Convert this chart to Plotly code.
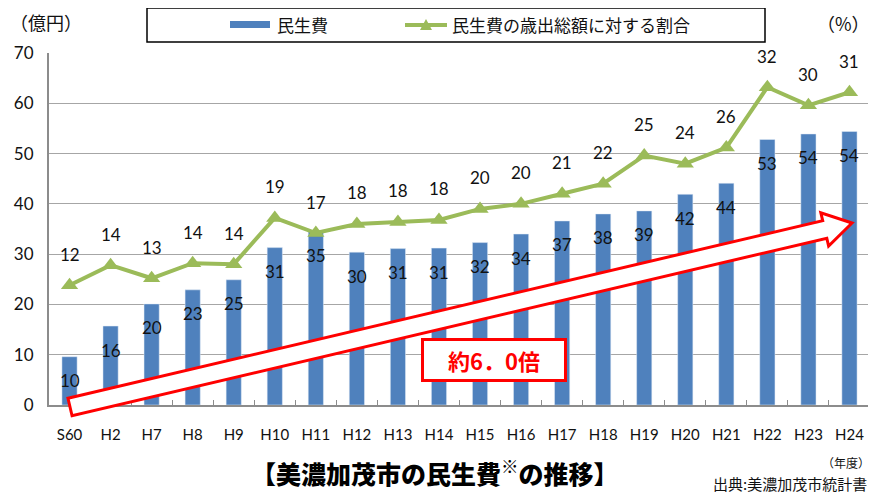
import numpy as np
import plotly.graph_objects as go

# 年度
years = ["S60", "H2", "H7", "H8", "H9", "H10", "H11", "H12", "H13", "H14",
         "H15", "H16", "H17", "H18", "H19", "H20", "H21", "H22", "H23", "H24"]
# 民生費 (億円)
welfare = [9.6, 15.7, 20.1, 22.9, 24.9, 31.3, 34.6, 30.4, 31.1, 31.2,
           32.3, 34.0, 36.6, 38.0, 38.6, 41.9, 44.1, 52.8, 53.9, 54.4]
# 民生費の歳出総額に対する割合 (%)
ratio = [11.9, 13.9, 12.6, 14.1, 14.0, 18.6, 17.1, 18.0, 18.2, 18.4,
         19.5, 20.0, 21.0, 22.0, 24.8, 24.0, 25.6, 31.6, 29.8, 31.1]

# the page body adds an 8px margin, so the figure is laid out 8px smaller
OFF = 8
W, H = 876 - OFF, 493 - OFF
PLOT_L, PLOT_R, PLOT_T, PLOT_B = 49, 870, 53, 405   # plot area in page pixels
ML, MR = PLOT_L - OFF, W - (PLOT_R - OFF)
MT, MB = PLOT_T - OFF, H - (PLOT_B - OFF)
PW, PH = PLOT_R - PLOT_L, PLOT_B - PLOT_T

NUM_FONT = "Lato, 'Noto Sans CJK JP', sans-serif"
JP_FONT = "'Noto Sans CJK JP', sans-serif"
BLUE = "#4F81BD"
GREEN = "#9BBB59"
TXT = "#111111"


def px(x, y):
    """page pixel position -> paper coords"""
    return (x - PLOT_L) / PW, (PLOT_B - y) / PH


def path_of(points):
    return "M " + " L ".join("{:.4f},{:.4f}".format(*px(*p)) for p in points) + " Z"


def label(x, y, text, size, color=TXT, xanchor="center", **kw):
    ax, ay = px(x, y)
    return dict(x=ax, y=ay, xref="paper", yref="paper", text=text, showarrow=False,
                xanchor=xanchor, yanchor="middle",
                font=dict(family=kw.pop("family", JP_FONT), size=size, color=color,
                          weight=kw.pop("weight", "normal")), **kw)


fig = go.Figure()
fig.add_trace(go.Bar(x=years, y=welfare, name="民生費", marker_color=BLUE,
                     width=0.37, yaxis="y"))
fig.add_trace(go.Scatter(x=years, y=ratio, name="民生費の歳出総額に対する割合",
                         mode="lines+markers", yaxis="y2",
                         line=dict(color=GREEN, width=4),
                         marker=dict(symbol="triangle-up", size=15, color=GREEN)))

annotations = []
for yr, v in zip(years, welfare):
    annotations.append(dict(x=yr, y=v, xref="x", yref="y", text=f"{round(v)}",
                            showarrow=False, yshift=-24,
                            font=dict(family=NUM_FONT, size=17, color=TXT)))
for yr, v in zip(years, ratio):
    annotations.append(dict(x=yr, y=v, xref="x", yref="y2", text=f"{round(v)}",
                            showarrow=False, yshift=31,
                            font=dict(family=NUM_FONT, size=17, color=TXT)))

# big red arrow
tail = np.array([70.0, 407.0])
tip = np.array([852.0, 223.0])
u = (tip - tail) / np.linalg.norm(tip - tail)
n = np.array([-u[1], u[0]])
half, head_half, head_len = 9.0, 17.0, 28.0
base = tip - head_len * u
pts = [tail - half * n, base - half * n, base - head_half * n, tip,
       base + head_half * n, base + half * n, tail + half * n]
shapes = [
    dict(type="path", xref="paper", yref="paper", path=path_of(pts), fillcolor="white",
         line=dict(color="#FF0000", width=3), layer="above"),
]

# legend drawn by hand: frame, bar swatch, line swatch with triangle
x0, y1 = px(147, 8)
x1, y0 = px(765, 42)
shapes.append(dict(type="rect", xref="paper", yref="paper", x0=x0, x1=x1, y0=y0, y1=y1,
                   line=dict(color="black", width=1.5), fillcolor="white"))
x0, y1 = px(230, 21)
x1, y0 = px(270, 28)
shapes.append(dict(type="rect", xref="paper", yref="paper", x0=x0, x1=x1, y0=y0, y1=y1,
                   line=dict(width=0), fillcolor=BLUE))
x0, yy = px(405, 25)
x1, _ = px(447, 25)
shapes.append(dict(type="line", xref="paper", yref="paper", x0=x0, x1=x1, y0=yy, y1=yy,
                   line=dict(color=GREEN, width=4)))
shapes.append(dict(type="path", xref="paper", yref="paper",
                   path=path_of([(420, 30), (426, 19), (432, 30)]),
                   fillcolor=GREEN, line=dict(width=0)))

annotations.append(label(275, 25, "民生費", 17, xanchor="left"))
annotations.append(label(450, 25, "民生費の歳出総額に対する割合", 17, xanchor="left"))

annotations.append(label(494, 360, "約6．0倍", 22, color="#FF0000", weight="bold",
                         bgcolor="white", bordercolor="#FF0000", borderwidth=3,
                         borderpad=3, width=134, height=32))

annotations.append(label(46, 22, "（億円）", 18))
annotations.append(label(843, 23, "（%）", 18))
annotations.append(label(435, 472, "【美濃加茂市の民生費<sup>※</sup>の推移】", 25,
                         color="black", weight=900))
annotations.append(label(846, 462, "（年度）", 12))
annotations.append(label(790, 483, "出典:美濃加茂市統計書", 15))

fig.update_layout(
    width=W, height=H,
    margin=dict(l=ML, r=MR, t=MT, b=MB, autoexpand=False),
    paper_bgcolor="white", plot_bgcolor="white",
    showlegend=False,
    xaxis=dict(type="category", range=[-0.5, len(years) - 0.5], showgrid=False,
               showline=True, linecolor="#8c8c8c", linewidth=2, ticks="inside",
               tickson="boundaries", ticklen=5, tickcolor="#8c8c8c",
               ticklabelstandoff=15, tickangle=0, automargin=False,
               tickfont=dict(family=NUM_FONT, size=15, color=TXT)),
    yaxis=dict(range=[0, 70], dtick=10, showgrid=True, gridcolor="#a6a6a6", gridwidth=1,
               showline=True, linecolor="#8c8c8c", linewidth=2, zeroline=False,
               ticklabelstandoff=10, automargin=False,
               tickfont=dict(family=NUM_FONT, size=17, color=TXT)),
    yaxis2=dict(range=[0, 35], overlaying="y", side="right", showgrid=False,
                showticklabels=False, showline=True, linecolor="#8c8c8c", linewidth=2,
                zeroline=False, automargin=False),
    annotations=annotations,
    shapes=shapes,
)

fig.write_html("out.html")
